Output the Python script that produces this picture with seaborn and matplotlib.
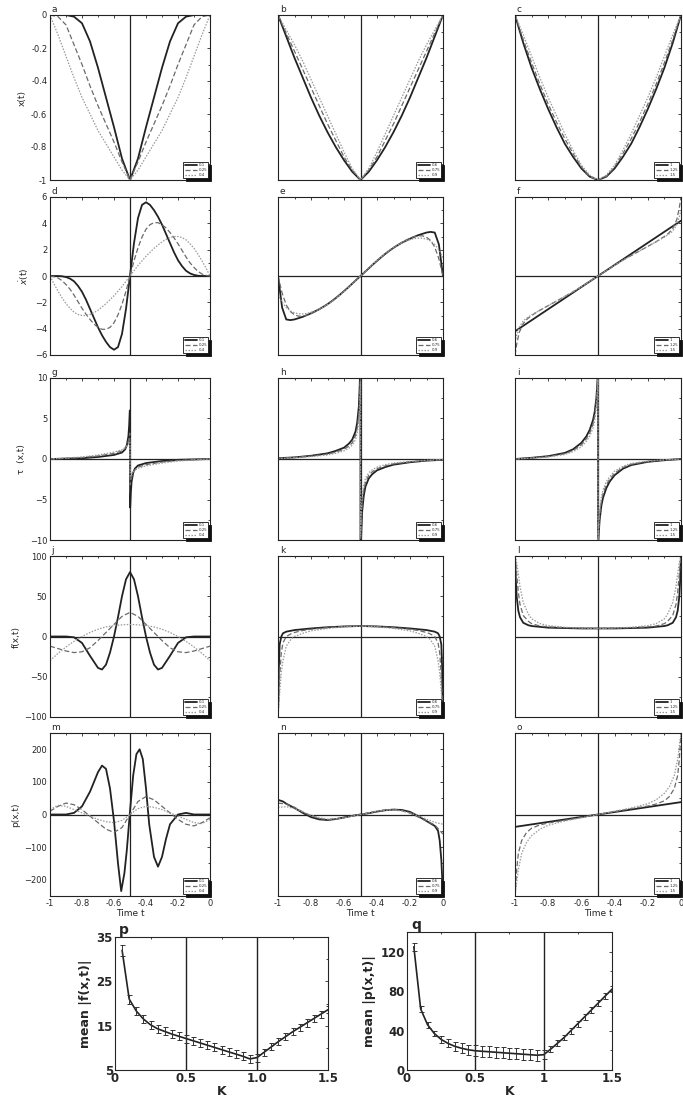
import numpy as np
import pandas as pd
import matplotlib
matplotlib.use("Agg")
import matplotlib.pyplot as plt
from matplotlib.ticker import MultipleLocator, AutoMinorLocator
import seaborn as sns

# ---------------- data ----------------
T21 = [-1, -0.95, -0.9, -0.85, -0.8, -0.75, -0.7, -0.65, -0.6, -0.55, -0.5,
       -0.45, -0.4, -0.35, -0.3, -0.25, -0.2, -0.15, -0.1, -0.05, 0]
T41 = [-1, -0.975, -0.95, -0.925, -0.9, -0.875, -0.85, -0.825, -0.8, -0.775, -0.75,
       -0.725, -0.7, -0.675, -0.65, -0.625, -0.6, -0.575, -0.55, -0.525, -0.5,
       -0.475, -0.45, -0.425, -0.4, -0.375, -0.35, -0.325, -0.3, -0.275, -0.25,
       -0.225, -0.2, -0.175, -0.15, -0.125, -0.1, -0.075, -0.05, -0.025, 0]

LEG1 = ["0.1", "0.25", "0.4"]
LEG2 = ["0.6", "0.75", "0.9"]
LEG3 = ["1", "1.25", "1.5"]

# a, b, c : x(t)
A_K1 = [0, 0, 0, -0.01, -0.05, -0.16, -0.32, -0.5, -0.68, -0.87, -1.0,
        -0.87, -0.68, -0.5, -0.32, -0.16, -0.05, -0.01, 0, 0, 0]
A_K2 = [0, -0.01, -0.06, -0.18, -0.3, -0.43, -0.55, -0.66, -0.77, -0.89, -1.0,
        -0.89, -0.77, -0.66, -0.55, -0.43, -0.3, -0.18, -0.06, -0.01, 0]
A_K3 = [0, -0.12, -0.25, -0.38, -0.5, -0.6, -0.7, -0.78, -0.86, -0.94, -1.0,
        -0.94, -0.86, -0.78, -0.7, -0.6, -0.5, -0.38, -0.25, -0.12, 0]
B_K1 = [0, -0.13, -0.26, -0.38, -0.5, -0.61, -0.71, -0.8, -0.88, -0.95, -1.0,
        -0.95, -0.88, -0.8, -0.71, -0.61, -0.5, -0.38, -0.26, -0.13, 0]
B_K2 = [0, -0.11, -0.22, -0.33, -0.44, -0.55, -0.66, -0.76, -0.86, -0.94, -1.0,
        -0.94, -0.86, -0.76, -0.66, -0.55, -0.44, -0.33, -0.22, -0.11, 0]
B_K3 = [0, -0.09, -0.18, -0.28, -0.39, -0.5, -0.61, -0.72, -0.83, -0.93, -1.0,
        -0.93, -0.83, -0.72, -0.61, -0.5, -0.39, -0.28, -0.18, -0.09, 0]
C_K1 = [0, -0.17, -0.32, -0.45, -0.57, -0.68, -0.78, -0.86, -0.93, -0.98, -1.0,
        -0.98, -0.93, -0.86, -0.78, -0.68, -0.57, -0.45, -0.32, -0.17, 0]
C_K2 = [0, -0.15, -0.29, -0.42, -0.54, -0.65, -0.75, -0.84, -0.92, -0.98, -1.0,
        -0.98, -0.92, -0.84, -0.75, -0.65, -0.54, -0.42, -0.29, -0.15, 0]
C_K3 = [0, -0.12, -0.25, -0.38, -0.5, -0.61, -0.72, -0.82, -0.91, -0.97, -1.0,
        -0.97, -0.91, -0.82, -0.72, -0.61, -0.5, -0.38, -0.25, -0.12, 0]

# d, e, f : velocity
D_K1 = [0, 0, 0, -0.02, -0.08, -0.2, -0.4, -0.75, -1.2, -1.8, -2.5, -3.2, -3.9, -4.5,
        -5.0, -5.4, -5.6, -5.4, -4.4, -2.5, 0, 2.5, 4.4, 5.4, 5.6, 5.4, 5.0, 4.5, 3.9,
        3.2, 2.5, 1.8, 1.2, 0.75, 0.4, 0.2, 0.08, 0.02, 0, 0, 0]
D_K2 = [0, -0.05, -0.15, -0.35, -0.65, -1.0, -1.45, -1.95, -2.45, -2.9, -3.3, -3.65,
        -3.9, -4.05, -4.05, -3.9, -3.55, -2.95, -2.15, -1.15, 0, 1.15, 2.15, 2.95, 3.55,
        3.9, 4.05, 4.05, 3.9, 3.65, 3.3, 2.9, 2.45, 1.95, 1.45, 1.0, 0.65, 0.35, 0.15,
        0.05, 0]
D_K3 = [0, -0.6, -1.15, -1.65, -2.1, -2.45, -2.75, -2.92, -3.0, -3.0, -2.92, -2.78,
        -2.6, -2.35, -2.1, -1.8, -1.5, -1.15, -0.8, -0.4, 0, 0.4, 0.8, 1.15, 1.5, 1.8,
        2.1, 2.35, 2.6, 2.78, 2.92, 3.0, 3.0, 2.92, 2.75, 2.45, 2.1, 1.65, 1.15, 0.6, 0]
E_K1 = [0, -2.4, -3.3, -3.35, -3.3, -3.2, -3.1, -2.97, -2.83, -2.68, -2.52, -2.34,
        -2.14, -1.92, -1.68, -1.42, -1.15, -0.87, -0.58, -0.29, 0, 0.29, 0.58, 0.87,
        1.15, 1.42, 1.68, 1.92, 2.14, 2.34, 2.52, 2.68, 2.83, 2.97, 3.1, 3.2, 3.3, 3.35,
        3.3, 2.4, 0]
E_K2 = [0, -1.3, -2.2, -2.7, -2.95, -3.05, -3.05, -2.98, -2.87, -2.72, -2.55, -2.36,
        -2.15, -1.93, -1.69, -1.43, -1.16, -0.88, -0.59, -0.3, 0, 0.3, 0.59, 0.88, 1.16,
        1.43, 1.69, 1.93, 2.15, 2.36, 2.55, 2.72, 2.87, 2.98, 3.05, 3.05, 2.95, 2.7, 2.2,
        1.3, 0]
E_K3 = [-1.4, -2.0, -2.4, -2.65, -2.8, -2.87, -2.88, -2.84, -2.76, -2.65, -2.52, -2.36,
        -2.17, -1.96, -1.72, -1.46, -1.18, -0.9, -0.6, -0.3, 0, 0.3, 0.6, 0.9, 1.18,
        1.46, 1.72, 1.96, 2.17, 2.36, 2.52, 2.65, 2.76, 2.84, 2.88, 2.87, 2.8, 2.65,
        2.4, 2.0, 1.4]
F_T1 = [-1, 0]
F_K1 = [-4.2, 4.2]
F_T = [-1, -0.99, -0.975, -0.95, -0.925, -0.9, -0.85, -0.8, -0.75, -0.7, -0.65, -0.6,
       -0.55, -0.5, -0.45, -0.4, -0.35, -0.3, -0.25, -0.2, -0.15, -0.1, -0.075, -0.05,
       -0.025, -0.01, 0]
F_K2 = [-6.0, -5.2, -4.3, -3.6, -3.25, -3.0, -2.6, -2.25, -1.9, -1.55, -1.2, -0.8, -0.4,
        0, 0.4, 0.8, 1.2, 1.55, 1.9, 2.25, 2.6, 3.0, 3.25, 3.6, 4.3, 5.2, 6.0]
F_K3 = [-5.0, -4.5, -3.9, -3.4, -3.15, -2.95, -2.6, -2.25, -1.9, -1.55, -1.2, -0.82,
        -0.41, 0, 0.41, 0.82, 1.2, 1.55, 1.9, 2.25, 2.6, 2.95, 3.15, 3.4, 3.9, 4.5, 5.0]

# g, h, i : tau(x,t)
G_T = [-1, -0.9, -0.8, -0.7, -0.6, -0.55, -0.53, -0.52, -0.51, -0.505, -0.501,
       -0.499, -0.495, -0.49, -0.48, -0.47, -0.45, -0.4, -0.3, -0.2, -0.1, 0]
G_K1 = [0, 0.05, 0.1, 0.25, 0.5, 0.8, 1.2, 1.7, 2.8, 4.2, 6.0,
        -6.0, -4.2, -2.8, -1.7, -1.2, -0.8, -0.5, -0.25, -0.1, -0.05, 0]
G_K2 = [0, 0.08, 0.18, 0.38, 0.7, 1.0, 1.35, 1.7, 2.2, 2.7, 3.2,
        -3.2, -2.7, -2.2, -1.7, -1.35, -1.0, -0.7, -0.38, -0.18, -0.08, 0]
G_K3 = [0, 0.12, 0.25, 0.5, 0.85, 1.15, 1.4, 1.6, 1.85, 2.0, 2.1,
        -2.1, -2.0, -1.85, -1.6, -1.4, -1.15, -0.85, -0.5, -0.25, -0.12, 0]
H_T = [-1, -0.9, -0.8, -0.7, -0.65, -0.6, -0.57, -0.55, -0.53, -0.52, -0.51, -0.505, -0.5,
       -0.5, -0.495, -0.49, -0.48, -0.47, -0.45, -0.43, -0.4, -0.35, -0.3, -0.2, -0.1, 0]
H_K1 = [0.1, 0.2, 0.4, 0.7, 1.0, 1.4, 1.9, 2.4, 3.4, 4.5, 6.5, 9, 12,
        -12, -9, -6.5, -4.5, -3.4, -2.4, -1.9, -1.4, -1.0, -0.7, -0.4, -0.2, -0.1]
H_K2 = [0.1, 0.2, 0.35, 0.6, 0.85, 1.2, 1.6, 2.0, 2.9, 3.8, 5.5, 7.5, 10.5,
        -10.5, -7.5, -5.5, -3.8, -2.9, -2.0, -1.6, -1.2, -0.85, -0.6, -0.35, -0.2, -0.1]
H_K3 = [0.05, 0.15, 0.3, 0.5, 0.7, 1.0, 1.35, 1.7, 2.4, 3.2, 4.6, 6.5, 9.5,
        -9.5, -6.5, -4.6, -3.2, -2.4, -1.7, -1.35, -1.0, -0.7, -0.5, -0.3, -0.15, -0.05]
I_K1 = [0, 0.15, 0.35, 0.75, 1.2, 2.0, 2.8, 3.6, 4.8, 5.8, 7.5, 9, 11,
        -11, -9, -7.5, -5.8, -4.8, -3.6, -2.8, -2.0, -1.2, -0.75, -0.35, -0.15, 0]
I_K2 = [0, 0.12, 0.3, 0.65, 1.05, 1.75, 2.5, 3.2, 4.3, 5.3, 7.0, 8.5, 10.5,
        -10.5, -8.5, -7.0, -5.3, -4.3, -3.2, -2.5, -1.75, -1.05, -0.65, -0.3, -0.12, 0]
I_K3 = [0, 0.1, 0.25, 0.55, 0.9, 1.5, 2.2, 2.8, 3.8, 4.7, 6.3, 7.8, 10,
        -10, -7.8, -6.3, -4.7, -3.8, -2.8, -2.2, -1.5, -0.9, -0.55, -0.25, -0.1, 0]

# j, k, l : f(x,t)
J_T1 = [-1, -0.9, -0.85, -0.8, -0.75, -0.7, -0.675, -0.65, -0.625, -0.6, -0.575, -0.55,
        -0.525, -0.5, -0.475, -0.45, -0.425, -0.4, -0.375, -0.35, -0.325, -0.3, -0.25,
        -0.2, -0.15, -0.1, 0]
J_K1 = [0, 0, -1, -8, -24, -39, -41, -35, -20, 0, 24, 50, 71, 80, 71, 50, 24, 0, -20,
        -35, -41, -39, -24, -8, -1, 0, 0]
J_K2 = [-12, -15, -18, -20, -19, -14, -5, 5, 15, 25, 30, 25, 15, 5, -5, -14, -19, -20,
        -18, -15, -12]
J_K3 = [-30, -21, -13, -6, 0, 5, 9, 12, 13.5, 14.5, 15, 14.5, 13.5, 12, 9, 5, 0, -6,
        -13, -21, -30]
K_T = [-1, -0.995, -0.99, -0.98, -0.97, -0.95, -0.92, -0.9, -0.85, -0.8, -0.7, -0.6, -0.5,
       -0.4, -0.3, -0.2, -0.15, -0.1, -0.08, -0.05, -0.03, -0.02, -0.01, -0.005, 0]
K_K1 = [-100, -40, -10, 0, 4, 6, 7.2, 8, 9, 10, 11.5, 12.5, 13, 12.5, 11.5, 10, 9, 8,
        7.2, 6, 4, 0, -10, -40, -100]
K_K2 = [-100, -75, -50, -20, -8, 0, 3.5, 5, 7.5, 9, 11, 12.5, 13, 12.5, 11, 9, 7.5, 5,
        3.5, 0, -8, -20, -50, -75, -100]
K_K3 = [-100, -85, -70, -45, -30, -12, -3, 0, 4, 7, 10, 12, 13, 12, 10, 7, 4, 0, -3,
        -12, -30, -45, -70, -85, -100]
L_K1 = [100, 70, 50, 32, 24, 17, 14, 13, 12, 11, 10.5, 10, 10, 10, 10.5, 11, 12, 13, 14,
        17, 24, 32, 50, 70, 100]
L_K2 = [100, 90, 78, 55, 40, 26, 19, 16, 13, 12, 11, 10.5, 10, 10.5, 11, 12, 13, 16, 19,
        26, 40, 55, 78, 90, 100]
L_K3 = [100, 97, 92, 78, 62, 42, 28, 22, 16, 13.5, 11.5, 10.5, 10, 10.5, 11.5, 13.5, 16,
        22, 28, 42, 62, 78, 92, 97, 100]

# m, n, o : p(x,t)
M_T1 = [-1, -0.9, -0.85, -0.8, -0.75, -0.7, -0.675, -0.65, -0.625, -0.6, -0.575, -0.555,
        -0.535, -0.52, -0.5, -0.48, -0.46, -0.44, -0.42, -0.4, -0.38, -0.35, -0.325,
        -0.3, -0.275, -0.25, -0.2, -0.15, -0.1, 0]
M_K1 = [0, 0, 5, 25, 70, 130, 150, 140, 80, -20, -150, -235, -180, -110, 10, 120, 185,
        200, 170, 80, -30, -130, -160, -130, -75, -30, 0, 5, 0, 0]
M_K2 = [10, 25, 35, 30, 15, -5, -25, -45, -55, -40, 0, 40, 55, 45, 25, 5, -15, -30, -35,
        -25, -10]
M_K3 = [15, 28, 25, 15, 5, -5, -15, -22, -25, -18, 0, 18, 25, 22, 15, 5, -5, -15, -25,
        -28, -15]
N_T1 = [-1, -0.97, -0.95, -0.9, -0.85, -0.8, -0.75, -0.7, -0.65, -0.6, -0.55, -0.5, -0.45,
        -0.4, -0.35, -0.3, -0.25, -0.2, -0.15, -0.1, -0.05, -0.03, -0.02, -0.01, 0]
N_K1 = [45, 40, 33, 20, 5, -8, -15, -17, -14, -9, -4, 0, 4, 9, 13, 15, 14, 8, -5, -20,
        -35, -50, -80, -140, -250]
N_K2 = [35, 32, 22, 8, -4, -12, -16, -14, -10, -5, 0, 5, 10, 14, 16, 12, 4, -8, -20, -32,
        -60]
N_K3 = [22, 24, 18, 8, -2, -10, -14, -13, -10, -5, 0, 5, 10, 13, 14, 11, 5, -4, -14, -24,
        -30]
O_T1 = [-1, 0]
O_K1 = [-38, 38]
O_T = [-1, -0.99, -0.98, -0.96, -0.93, -0.9, -0.85, -0.8, -0.7, -0.6, -0.5, -0.4, -0.3,
       -0.2, -0.15, -0.1, -0.07, -0.04, -0.02, -0.01, 0]
O_K2 = [-250, -170, -120, -80, -55, -42, -32, -26, -18, -9, 0, 9, 18, 26, 32, 42, 55, 80,
        120, 170, 250]
O_K3 = [-250, -210, -170, -120, -85, -65, -45, -33, -20, -10, 0, 10, 20, 33, 45, 65, 85,
        120, 170, 210, 250]

# p, q : mean over time versus K
K_VALS = [0.05, 0.1, 0.15, 0.2, 0.25, 0.3, 0.35, 0.4, 0.45, 0.5, 0.55, 0.6, 0.65, 0.7,
          0.75, 0.8, 0.85, 0.9, 0.95, 1.0, 1.05, 1.1, 1.15, 1.2, 1.25, 1.3, 1.35, 1.4,
          1.45, 1.5]
P_MEAN = [32, 21, 18.3, 16.5, 15.2, 14.3, 13.7, 13.1, 12.6, 12.1, 11.6, 11.1, 10.6, 10.1,
          9.6, 9.1, 8.6, 8.1, 7.5, 7.8, 9.0, 10.2, 11.4, 12.5, 13.6, 14.6, 15.6, 16.6,
          17.6, 18.6]
P_ERR = [1.2, 1.0, 1.0, 0.9, 0.9, 0.9, 0.9, 0.9, 0.9, 0.9, 0.9, 0.9, 0.9, 0.9, 0.9, 0.9,
         0.9, 0.9, 0.9, 0.9, 0.8, 0.8, 0.8, 0.8, 0.8, 0.8, 0.8, 0.8, 0.8, 0.8]
Q_MEAN = [125, 62, 46, 37, 31, 27, 24, 22, 20.5, 19.5, 19, 18.5, 18, 17.5, 17, 16.5, 16,
          15.5, 15, 15.5, 21, 27, 33, 40, 47, 54, 61, 68, 75, 82]
Q_ERR = [4, 3, 3, 3, 3.5, 4, 4.5, 5, 5, 5.5, 5.5, 5.5, 5.5, 5.5, 5.5, 5.5, 5.5, 5.5, 5.5,
         4.5, 3, 3, 3, 3, 3, 3, 3, 3, 3, 3]

# ---------------- figure ----------------
sns.set_style("white")
plt.rcParams["font.family"] = ["DejaVu Sans"]
plt.rcParams["axes.linewidth"] = 0.8

W, H = 683, 1098
fig = plt.figure(figsize=(W / 100, H / 100), dpi=100)


def rect(l, r, t, b):
    return [l / W, 1 - b / H, (r - l) / W, (b - t) / H]


STYLES = [dict(color="#222222", linewidth=1.3, linestyle="-"),
          dict(color="#6a6a6a", linewidth=0.9, linestyle=(0, (4, 2))),
          dict(color="#999999", linewidth=0.9, linestyle=(0, (1.2, 1.2)))]

COLS = [(50, 210), (278, 443), (515, 681)]
ROWS = [(15, 180), (197, 355), (378, 540), (556, 717), (733, 896)]
YLIMS = [(-1, 0), (-6, 6), (-10, 10), (-100, 100), (-250, 250)]
YTICKS = [[-1, -0.8, -0.6, -0.4, -0.2, 0], [-6, -4, -2, 0, 2, 4, 6], [-10, -5, 0, 5, 10],
          [-100, -50, 0, 50, 100], [-200, -100, 0, 100, 200]]
YTICKLAB = [["-1", "-0.8", "-0.6", "-0.4", "-0.2", "0"], None, None, None, None]
YLABELS = ["x(t)", r"$\dot{x}$(t)", "\u03c4  (x,t)", "f(x,t)", "p(x,t)"]
LEGS = [LEG1, LEG2, LEG3]

PANELS = [
    [("a", [(T21, A_K1), (T21, A_K2), (T21, A_K3)]),
     ("b", [(T21, B_K1), (T21, B_K2), (T21, B_K3)]),
     ("c", [(T21, C_K1), (T21, C_K2), (T21, C_K3)])],
    [("d", [(T41, D_K1), (T41, D_K2), (T41, D_K3)]),
     ("e", [(T41, E_K1), (T41, E_K2), (T41, E_K3)]),
     ("f", [(F_T1, F_K1), (F_T, F_K2), (F_T, F_K3)])],
    [("g", [(G_T, G_K1), (G_T, G_K2), (G_T, G_K3)]),
     ("h", [(H_T, H_K1), (H_T, H_K2), (H_T, H_K3)]),
     ("i", [(H_T, I_K1), (H_T, I_K2), (H_T, I_K3)])],
    [("j", [(J_T1, J_K1), (T21, J_K2), (T21, J_K3)]),
     ("k", [(K_T, K_K1), (K_T, K_K2), (K_T, K_K3)]),
     ("l", [(K_T, L_K1), (K_T, L_K2), (K_T, L_K3)])],
    [("m", [(M_T1, M_K1), (T21, M_K2), (T21, M_K3)]),
     ("n", [(N_T1, N_K1), (T21, N_K2), (T21, N_K3)]),
     ("o", [(O_T1, O_K1), (O_T, O_K2), (O_T, O_K3)])],
]

for r, row in enumerate(PANELS):
    for c, (letter, series) in enumerate(row):
        ax = fig.add_axes(rect(COLS[c][0], COLS[c][1], ROWS[r][0], ROWS[r][1]))
        for (t, v), lab, sty in zip(series, LEGS[c], STYLES):
            df = pd.DataFrame({"t": t, "v": v})
            sns.lineplot(data=df, x="t", y="v", ax=ax, estimator=None, sort=False,
                         label=lab, **sty)
        ax.axvline(-0.5, color="#222222", lw=0.9, zorder=0)
        if r > 0:
            ax.axhline(0, color="#222222", lw=0.9, zorder=0)
        ax.set_xlim(-1, 0)
        ax.set_ylim(*YLIMS[r])
        ax.set_xticks([-1, -0.8, -0.6, -0.4, -0.2, 0])
        ax.xaxis.set_minor_locator(MultipleLocator(0.1))
        ax.set_yticks(YTICKS[r])
        ax.yaxis.set_minor_locator(AutoMinorLocator(2))
        ax.tick_params(which="both", direction="in", top=True, right=True,
                       length=2, width=0.6, labelsize=6, pad=2)
        ax.tick_params(which="minor", length=1.2)
        if r == 4:
            ax.set_xticklabels(["-1", "-0.8", "-0.6", "-0.4", "-0.2", "0"])
            ax.set_xlabel("Time t", fontsize=6.5, labelpad=1)
        else:
            ax.set_xticklabels([])
            ax.set_xlabel("")
        if c == 0:
            if YTICKLAB[r] is not None:
                ax.set_yticklabels(YTICKLAB[r])
            ax.set_ylabel(YLABELS[r], fontsize=6.5, labelpad=3)
        else:
            ax.set_yticklabels([])
            ax.set_ylabel("")
        ax.text(0.01, 1.005, letter, transform=ax.transAxes, fontsize=6.5,
                ha="left", va="bottom")
        leg = ax.legend(loc="lower right", fontsize=2.8, handlelength=3,
                        borderpad=0.35, labelspacing=0.25, handletextpad=0.5,
                        frameon=True, fancybox=False, framealpha=1,
                        borderaxespad=0.4, shadow={"color": "#111111", "alpha": 1})
        leg.get_frame().set_edgecolor("#111111")
        leg.get_frame().set_linewidth(0.6)
        for sp in ax.spines.values():
            sp.set_color("#222222")

# bottom summary panels
BOTTOM = [
    (rect(115, 328, 937, 1070), P_MEAN, P_ERR, (5, 35), [5, 15, 25, 35],
     ["0", "0.5", "1.0", "1.5"], "mean |f(x,t)|", "p"),
    (rect(407, 612, 932, 1070), Q_MEAN, Q_ERR, (0, 140), [0, 40, 80, 120],
     ["0", "0.5", "1", "1.5"], "mean |p(x,t)|", "q"),
]
for pos, mean, err, ylim, yt, xtl, ylab, letter in BOTTOM:
    ax = fig.add_axes(pos)
    df = pd.DataFrame({"K": K_VALS, "m": mean})
    sns.lineplot(data=df, x="K", y="m", ax=ax, color="#222222", linewidth=1.2,
                 estimator=None, sort=False)
    ax.errorbar(K_VALS, mean, yerr=err, fmt="none", ecolor="#333333",
                elinewidth=0.7, capsize=1.8, capthick=0.7)
    ax.axvline(0.5, color="#222222", lw=1.0, zorder=0)
    ax.axvline(1.0, color="#222222", lw=1.0, zorder=0)
    ax.set_xlim(0, 1.5)
    ax.set_ylim(*ylim)
    ax.set_xticks([0, 0.5, 1.0, 1.5])
    ax.set_xticklabels(xtl)
    ax.set_yticks(yt)
    ax.xaxis.set_minor_locator(MultipleLocator(0.25))
    ax.yaxis.set_minor_locator(AutoMinorLocator(2))
    ax.tick_params(which="both", direction="in", top=True, right=True,
                   length=2.5, width=0.6, labelsize=8.5, pad=1.5)
    ax.tick_params(which="minor", length=1.5)
    for lab in ax.get_xticklabels() + ax.get_yticklabels():
        lab.set_fontweight("bold")
    ax.set_xlabel("K", fontsize=9, fontweight="bold", labelpad=0)
    ax.set_ylabel(ylab, fontsize=9, fontweight="bold", labelpad=3)
    ax.text(0.02, 1.0, letter, transform=ax.transAxes, fontsize=10,
            fontweight="bold", ha="left", va="bottom")

fig.savefig("out.png", dpi=100)
